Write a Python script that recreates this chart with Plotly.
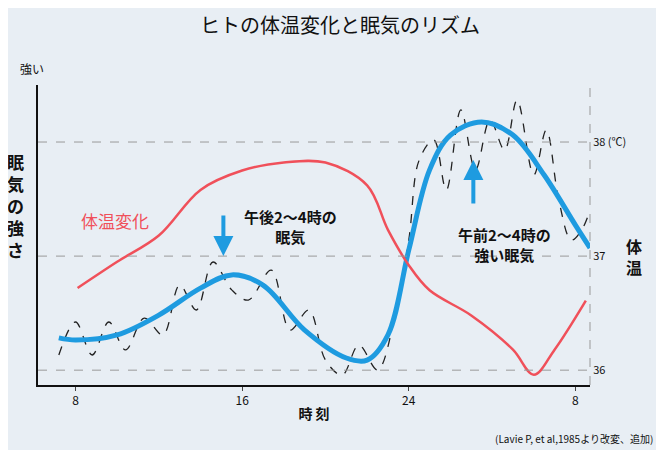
import plotly.graph_objects as go

# temperature (red), hours and degrees C
temp_h = [8.1, 10, 12, 14, 16, 18, 20, 22, 23, 24, 25, 27, 29, 30, 31, 32.5]
temp_v = [36.72, 36.95, 37.18, 37.58, 37.75, 37.82, 37.82, 37.62, 37.23, 36.92, 36.7, 36.48, 36.18, 35.96, 36.18, 36.61]

# smoothed sleepiness (blue), index 0-100
sl_h = [7.2, 8, 10, 12, 14, 15.5, 17, 19, 21, 22, 23, 24, 25, 26, 27.5, 29, 30.5, 32, 32.7]
sl_v = [15.7, 15, 16.7, 23.3, 32.3, 36.7, 33.3, 18.3, 9, 8.3, 16.7, 45, 71.7, 83.3, 87.7, 83.3, 70, 53.3, 45.7]

# raw sleepiness (dashed)
raw_h = [7.2, 8.0, 8.8, 9.6, 10.4, 11.3, 12.2, 13, 13.8, 14.6, 15.5, 16.3, 17.4, 18.3, 19.2, 20.0, 20.8, 21.6, 22.5, 23.3,
         24.0, 24.5, 25.2, 25.8, 26.5, 27.2, 27.9, 28.6, 29.2, 30.0, 30.6, 31.2, 31.8, 32.3, 32.7]
raw_v = [10, 21, 10, 21, 11.7, 22.3, 16.7, 33.3, 25, 41, 31.7, 28.3, 38.3, 18.3, 25, 8.3, 3.3, 13.3, 5, 21.7,
         48.3, 75, 81.7, 65, 91.7, 71.7, 88.3, 78.3, 95, 70, 85, 61.7, 48.3, 51.7, 58.3]

x_ticks = [8, 16, 24, 32]
x_labels = ["8", "16", "24", "8"]
t_ticks = [36, 37, 38]
t_labels = ["36", "37", "38 (℃)"]

F = "Noto Sans CJK JP"
fig = go.Figure()
fig.add_trace(go.Scatter(x=temp_h, y=temp_v, yaxis="y2", mode="lines", line=dict(color="#f0505a", width=2.5, shape="spline")))
fig.add_trace(go.Scatter(x=raw_h, y=raw_v, mode="lines", line=dict(color="#222", width=1.3, dash="dash", shape="spline")))
fig.add_trace(go.Scatter(x=sl_h, y=sl_v, mode="lines", line=dict(color="#1e9be0", width=5, shape="spline")))

for t in t_ticks:
    fig.add_shape(type="line", xref="paper", x0=0, x1=1, yref="y2", y0=t, y1=t, line=dict(color="#999", width=1, dash="dash"))
fig.add_shape(type="line", xref="paper", x0=1, x1=1, yref="paper", y0=0, y1=1, line=dict(color="#999", width=1, dash="dash"))

fig.update_layout(
    width=664, height=450, showlegend=False,
    margin=dict(l=30, r=82, t=77, b=73, autoexpand=False),
    paper_bgcolor="#e8eef4", plot_bgcolor="rgba(0,0,0,0)",
    font=dict(family=F, color="#111"),
    title=dict(text="ヒトの体温変化と眠気のリズム", x=0.5, xanchor="center", y=0.975, font=dict(size=20)),
    xaxis=dict(range=[6.2, 32.7], tickvals=x_ticks, ticktext=x_labels, showgrid=False, zeroline=False, automargin=False,
               showline=True, linecolor="#111", linewidth=1.5, ticks="outside", ticklen=4, tickfont=dict(size=12),
               title=dict(text="<b>時 刻</b>", font=dict(size=14), standoff=2)),
    yaxis=dict(range=[0, 100], showticklabels=False, showgrid=False, zeroline=False, showline=True, linecolor="#111", linewidth=1.5, automargin=False),
    yaxis2=dict(range=[35.87, 38.5], overlaying="y", side="right", tickvals=t_ticks, ticktext=t_labels, automargin=False,
                showgrid=False, zeroline=False, tickfont=dict(size=11), ticks="outside", ticklen=0),
)
fig.add_annotation(text="強い", xref="paper", yref="paper", x=-0.01, y=1.02, showarrow=False, xanchor="center", yanchor="bottom", font=dict(size=12))
fig.add_annotation(text="<b>眠<br>気<br>の<br>強<br>さ</b>", xref="paper", yref="paper", x=-0.022, y=0.6, showarrow=False, xanchor="right", font=dict(size=17), align="center")
fig.add_annotation(text="<b>体<br>温</b>", xref="paper", yref="paper", x=1.08, y=0.43, showarrow=False, xanchor="center", font=dict(size=16))
fig.add_annotation(text="体温変化", x=9.9, y=55, showarrow=False, font=dict(size=17, color="#f0505a"))
fig.add_annotation(text="<b>午後2〜4時の<br>眠気</b>", x=18.3, y=53, showarrow=False, font=dict(size=15), align="center")
fig.add_annotation(text="<b>午前2〜4時の<br>強い眠気</b>", x=28.6, y=47, showarrow=False, font=dict(size=15), align="center")
fig.add_annotation(x=15.1, y=43, ax=15.1, ay=57, axref="x", ayref="y", showarrow=True, arrowhead=2, arrowsize=1, arrowwidth=4, arrowcolor="#1e9be0", text="")
fig.add_annotation(x=27.1, y=75, ax=27.1, ay=60, axref="x", ayref="y", showarrow=True, arrowhead=2, arrowsize=1, arrowwidth=4, arrowcolor="#1e9be0", text="")
fig.add_annotation(text="(Lavie P, et al,1985より改変、追加)", xref="paper", yref="paper", x=1.118, y=-0.177, showarrow=False, xanchor="right", yanchor="middle", font=dict(size=10))
fig.write_html("out.html")
